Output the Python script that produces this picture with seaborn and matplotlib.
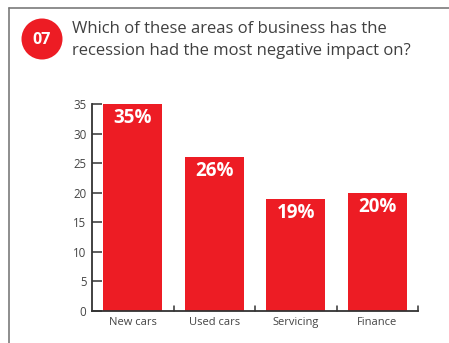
import matplotlib
matplotlib.use("Agg")
import matplotlib.pyplot as plt
import seaborn as sns
import pandas as pd
from matplotlib.lines import Line2D
from matplotlib.patches import Circle

categories = ["New cars", "Used cars", "Servicing", "Finance"]
values = [35, 26, 19, 20]
y_ticks = [0, 5, 10, 15, 20, 25, 30, 35]
question = "Which of these areas of business has the\nrecession had the most negative impact on?"
badge = "07"

RED = "#ED1C24"

sns.set_theme(style="white")
plt.rcParams["font.family"] = ["Open Sans", "DejaVu Sans"]

df = pd.DataFrame({"area": categories, "pct": values})

fig = plt.figure(figsize=(4.49, 3.43), dpi=100)
fig.patch.set_facecolor("white")

# panel frame (top and left edges)
fig.add_artist(Line2D([9 / 449, 9 / 449], [0, 1 - 8 / 343], transform=fig.transFigure,
                      color="#7a7a7a", lw=1.2))
fig.add_artist(Line2D([9 / 449, 1], [1 - 8 / 343, 1 - 8 / 343], transform=fig.transFigure,
                      color="#7a7a7a", lw=1.2))

# numbered badge and question text
W, H = 449, 343
badge_ax = fig.add_axes([0, 0, 1, 1], facecolor="none")
badge_ax.set_xlim(0, W)
badge_ax.set_ylim(H, 0)
badge_ax.set_aspect("equal")
badge_ax.axis("off")
badge_ax.add_patch(Circle((42, 39), 20.5, color=RED, lw=0))
badge_ax.text(42, 40, badge, color="white", fontsize=11.5, fontweight="bold",
              ha="center", va="center")
badge_ax.text(72, 40, question, color="#404040", fontsize=12.0, ha="left",
              va="center", linespacing=1.42)

ax = fig.add_axes([92 / W, 32 / H, 326 / W, 207 / H])
sns.barplot(data=df, x="area", y="pct", color=RED, width=0.72, saturation=1,
            ax=ax, edgecolor="none")

ax.set_ylim(0, 35)
ax.set_xlim(-0.5, len(categories) - 0.5)
ax.set_yticks(y_ticks)
ax.set_xlabel("")
ax.set_ylabel("")

for s in ["top", "right"]:
    ax.spines[s].set_visible(False)
for s in ["left", "bottom"]:
    ax.spines[s].set_color("#333333")
    ax.spines[s].set_linewidth(1.3)

ax.tick_params(axis="y", direction="in", length=7, width=1.1, color="#333333",
               labelsize=8.3, labelcolor="#444444", pad=4, left=True)
ax.set_xticks(range(len(categories)))
ax.set_xticklabels(categories)
ax.tick_params(axis="x", length=0, labelsize=8, labelcolor="#444444", pad=4)

# category separator ticks on the baseline
for b in [0.5, 1.5, 2.5, 3.5]:
    ax.plot([b, b], [0, 0.9], color="#333333", lw=1.1, clip_on=False)

for i, v in enumerate(values):
    ax.text(i, v - 0.7, f"{v}%", color="white", fontsize=13.5, fontweight="bold",
            ha="center", va="top")

fig.savefig("out.png", dpi=100, facecolor="white")
